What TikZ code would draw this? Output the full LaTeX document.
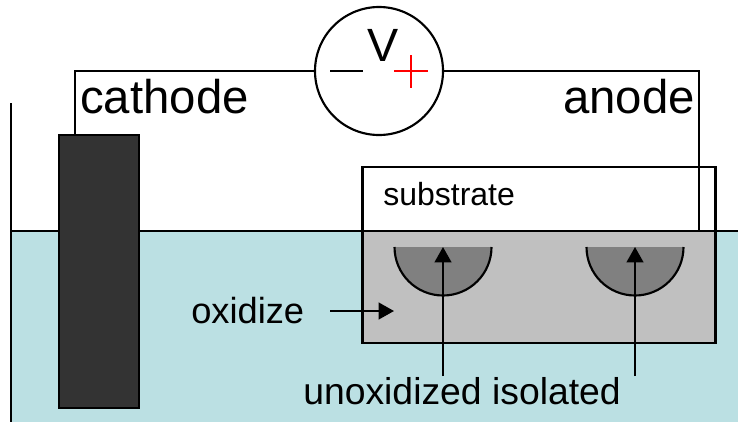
\documentclass[tikz,border=0pt]{standalone}
\usepackage{fontspec}
\setmainfont{Liberation Sans}
\usetikzlibrary{arrows.meta}
\definecolor{bathblue}{HTML}{BBE0E3}
\definecolor{oxidegray}{HTML}{C0C0C0}
\definecolor{islegray}{HTML}{808080}
\definecolor{cathodegray}{HTML}{333333}
\tikzset{
    wire/.style={line width=1.6pt},
    pointer/.style={line width=1.6pt, -{Triangle[length=11.5pt,width=12.5pt]}},
    box/.style={draw, line width=1.6pt, inner sep=0pt, outer sep=0pt},
    label/.style={anchor=base west, inner sep=0pt}
}
\begin{document}
\begin{tikzpicture}[x=0.75pt,y=-0.75pt]
    \useasboundingbox (0,0) rectangle (738,422);

    % Bath
    \fill[bathblue] (11,231) rectangle (738,422);
    \draw[wire] (11,103) -- (11,422);
    \draw[wire] (11,231) -- (738,231);

    % Cathode
    \node[box, fill=cathodegray, minimum width=60pt, minimum height=204.75pt] (cathode) at (99,271.5) {};

    % Substrate and oxide
    \node[box, fill=white, minimum width=264.75pt, minimum height=48pt] (substrate) at (539,199) {};
    \node[box, fill=oxidegray, minimum width=264.75pt, minimum height=84pt] (oxide) at (539,287) {};

    % Unoxidized islands
    \foreach \cx/\name in {443/islea, 635/isleb} {
        \fill[islegray] (\cx-48.5,247) arc (180:0:48.5) -- cycle;
        \draw[wire] (\cx-48.5,247) arc (180:0:48.5);
        \coordinate (\name) at (\cx,247);
        \coordinate (\name foot) at (\cx,376);
    }

    % Voltmeter
    \node[draw, circle, line width=1.6pt, fill=white, minimum size=96pt, inner sep=0pt, outer sep=0pt] (meter) at (379,71) {};
    \node[label, font=\fontsize{35}{35}\selectfont] (vlabel) at (367,61) {V};
    \coordinate (minusl) at (330,71);
    \coordinate (minusr) at (363,71);
    \coordinate (plusl) at (394,71);
    \coordinate (plusr) at (428,71);
    \coordinate (plust) at (411,55);
    \coordinate (plusb) at (411,88);
    \draw[wire] (minusl) -- (minusr);
    \draw[wire, red] (plusl) -- (plusr);
    \draw[wire, red] (plust) -- (plusb);

    % Leads
    \coordinate (cathodetop) at (75,135);
    \coordinate (anodeend) at (699,231);
    \draw[wire] (cathodetop) |- (meter.west);
    \draw[wire] (meter.east) -| (anodeend);

    % Labels
    \node[label, font=\fontsize{35.5}{36}\selectfont] (cathodelabel) at (80,113) {cathode};
    \node[label, font=\fontsize{35.5}{36}\selectfont] (anodelabel) at (563,113) {anode};
    \node[label, font=\fontsize{24}{24}\selectfont] (substratelabel) at (383,205) {substrate};
    \node[label, font=\fontsize{27.2}{27}\selectfont] (oxidizelabel) at (191,323) {oxidize};
    \node[label, font=\fontsize{28}{28}\selectfont] (isolatedlabel) at (303,404) {unoxidized isolated};

    % Arrows
    \coordinate (oxidizefrom) at (330,311);
    \coordinate (oxidizeto) at (394,311);
    \draw[pointer] (oxidizefrom) -- (oxidizeto);
    \draw[pointer] (isleafoot) -- (islea);
    \draw[pointer] (islebfoot) -- (isleb);
\end{tikzpicture}
\end{document}
